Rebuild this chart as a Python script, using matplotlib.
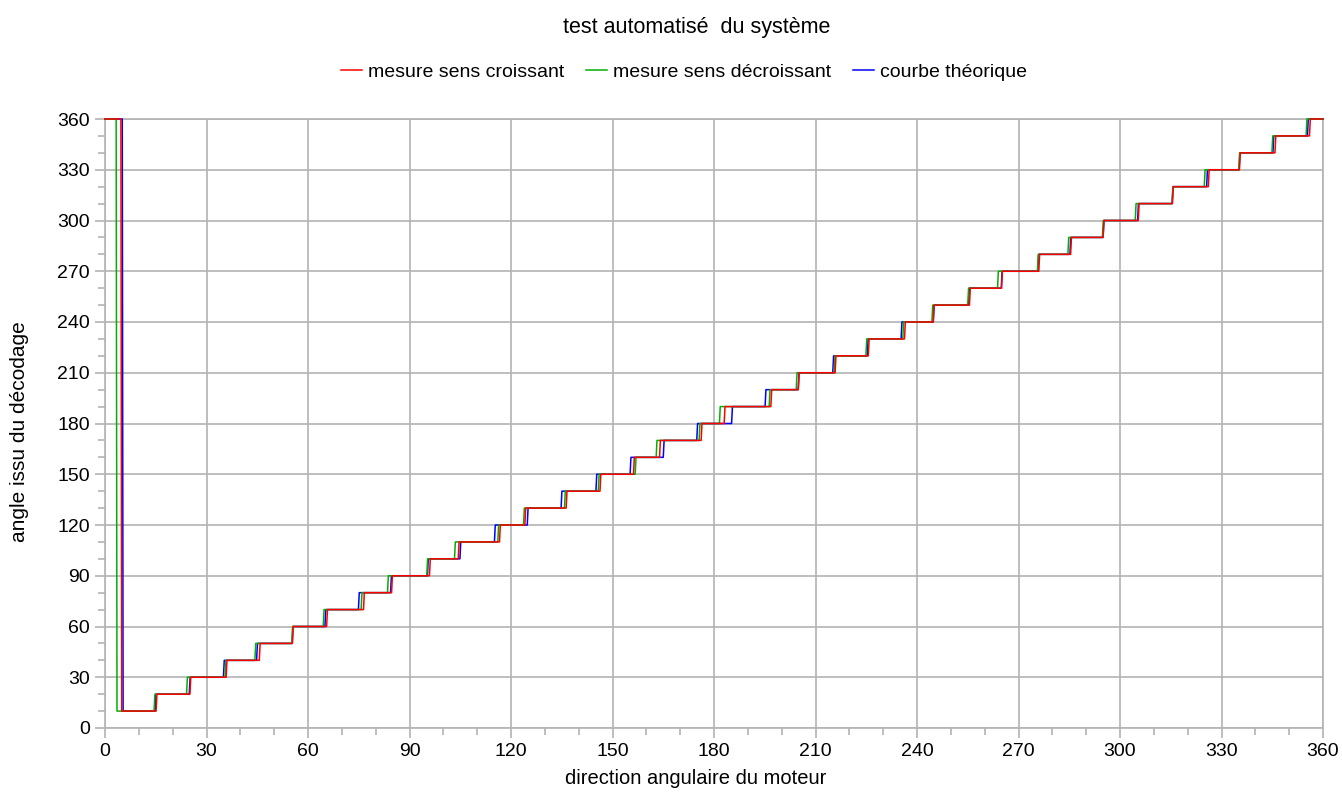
import matplotlib
matplotlib.use("Agg")
import matplotlib.pyplot as plt
from matplotlib.ticker import MultipleLocator

plt.rcParams['font.family'] = ['Liberation Sans', 'DejaVu Sans']

# ─────────────────────────────────────
# DATA
# ─────────────────────────────────────
START_LEVEL = 360
FIRST_LEVEL = 10
STEP = 10
X_END = 360

# position of the initial drop 360 -> 10
drop_croissant = 4.7
drop_decroissant = 3.3
drop_theorique = 5.1

# positions of the steps 10->20, 20->30, ..., 350->360
steps_croissant = [15.1, 25.1, 35.8, 45.6, 55.4, 65.5, 76.4, 84.7, 95.9, 104.4,
                   116.6, 124.1, 136.3, 146.3, 156.2, 163.9, 176.2, 183.0, 196.8, 204.9,
                   215.8, 225.6, 236.3, 244.8, 255.5, 265.0, 276.0, 285.4, 295.0, 305.4,
                   315.5, 326.1, 335.3, 345.8, 356.0]
steps_decroissant = [14.5, 24.1, 35.5, 44.3, 55.2, 64.5, 75.7, 83.5, 95.1, 103.3,
                     116.1, 123.7, 135.8, 145.8, 156.7, 162.9, 175.6, 181.6, 196.3, 204.3,
                     215.5, 224.9, 235.8, 244.4, 255.0, 263.8, 275.6, 284.6, 294.8, 304.5,
                     315.4, 324.9, 335.1, 344.9, 355.0]
steps_theorique = [14.8, 24.9, 35.0, 44.8, 55.3, 65.0, 74.9, 84.4, 95.3, 104.9,
                   115.1, 124.8, 134.8, 145.1, 155.2, 165.0, 174.9, 185.2, 195.1, 204.9,
                   215.1, 225.3, 235.3, 244.8, 255.2, 264.9, 275.7, 285.2, 295.0, 305.2,
                   315.4, 325.6, 335.2, 345.2, 355.4]

labels = ["mesure sens croissant", "mesure sens décroissant", "courbe théorique"]
colors = ["#ff0000", "#00b000", "#0000ff"]


# ─────────────────────────────────────
# FUNCTION: build the staircase polyline
# ─────────────────────────────────────
def staircase(drop, steps, slant=0.25):
    xs = [0, drop, drop + slant]
    ys = [START_LEVEL, START_LEVEL, FIRST_LEVEL]
    level = FIRST_LEVEL
    for t in steps:
        xs += [t, t + slant]
        ys += [level, level + STEP]
        level += STEP
    xs.append(X_END)
    ys.append(level)
    return xs, ys


W, H = 1342, 796
fig = plt.figure(figsize=(W / 100, H / 100), dpi=100)
ax = fig.add_axes([105 / W, 1 - 728 / H, (1323 - 105) / W, (728 - 119) / H])

series = [
    (drop_theorique, steps_theorique, 2, 3),
    (drop_decroissant, steps_decroissant, 1, 4),
    (drop_croissant, steps_croissant, 0, 5),
]
handles = [None, None, None]
for drop, steps, idx, z in series:
    xs, ys = staircase(drop, steps)
    line, = ax.plot(xs, ys, color=colors[idx], lw=1.1, label=labels[idx],
                    zorder=z, clip_on=False)
    handles[idx] = line

grid_col = "#b3b3b3"
ax.set_xlim(0, 360)
ax.set_ylim(0, 360)
ax.xaxis.set_major_locator(MultipleLocator(30))
ax.yaxis.set_major_locator(MultipleLocator(30))
ax.xaxis.set_minor_locator(MultipleLocator(10))
ax.yaxis.set_minor_locator(MultipleLocator(10))
ax.grid(True, which='major', color=grid_col, lw=1.2)
ax.set_axisbelow(True)
for s in ax.spines.values():
    s.set_color(grid_col)
    s.set_linewidth(1.2)
ax.tick_params(which='major', direction='out', length=7, width=1.2,
               color=grid_col, labelsize=14, pad=4)
ax.tick_params(which='minor', direction='out', length=5, width=1.2,
               color=grid_col)

# titles and axis labels
fig.text(697 / W, 1 - 27 / H, "test automatisé  du système", ha='center',
         va='center', fontsize=15.5)
fig.text(696 / W, 1 - 778 / H, "direction angulaire du moteur", ha='center',
         va='center', fontsize=14.5)
fig.text(20 / W, 1 - 432 / H, "angle issu du décodage", ha='center',
         va='center', rotation=90, fontsize=15)

fig.legend(handles=handles, labels=labels, loc='center',
           bbox_to_anchor=(684 / W, 1 - 72 / H), ncol=3, frameon=False,
           fontsize=14, handlelength=1.1, handletextpad=0.3,
           columnspacing=1.1, borderaxespad=0)

plt.savefig("out.png", dpi=100)
